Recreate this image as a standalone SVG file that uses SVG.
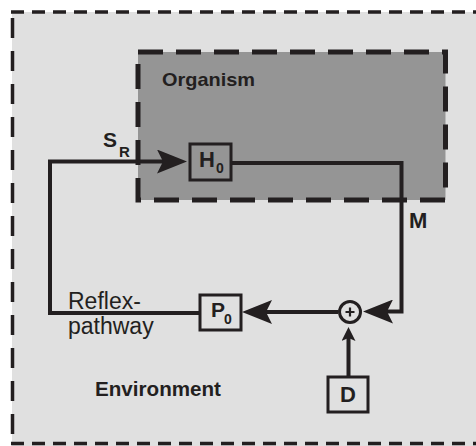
<svg xmlns="http://www.w3.org/2000/svg" width="476" height="446" viewBox="0 0 476 446">
  <style>
    .lbl { font-family: "Liberation Sans", Arial, sans-serif; fill: #231f20; }
    .b { font-weight: bold; }
    .box { fill: none; stroke: #231f20; stroke-width: 3; }
    .wire { fill: none; stroke: #231f20; stroke-width: 4; stroke-linejoin: miter; }
    .edge { stroke: #231f20; stroke-width: 3.5; }
  </style>
  <defs>
    <marker id="arr" markerUnits="userSpaceOnUse" markerWidth="30" markerHeight="24" viewBox="0 0 30 24" refX="6" refY="12" orient="auto">
      <path d="M0,0 L30,12 L0,24 L6,12 Z" fill="#231f20"/>
    </marker>
    <marker id="arrS" markerUnits="userSpaceOnUse" markerWidth="14" markerHeight="14" viewBox="0 0 14 14" refX="3" refY="7" orient="auto">
      <path d="M0,0 L14,7 L0,14 L3,7 Z" fill="#231f20"/>
    </marker>
  </defs>
  <rect width="476" height="446" fill="#ffffff"/>

  <g id="environment">
    <rect x="12" y="12" width="470" height="440" fill="#e0e0e0"/>
    <line class="edge" x1="11" y1="12" x2="476" y2="12" stroke-dasharray="13 8"/>
    <line class="edge" x1="12.5" y1="12" x2="12.5" y2="446" stroke-dasharray="20 13" stroke-dashoffset="-6"/>
    <line class="edge" x1="11" y1="443.5" x2="476" y2="443.5" stroke-dasharray="13 8"/>
    <text class="lbl b" x="95" y="396" font-size="20" textLength="126" lengthAdjust="spacingAndGlyphs">Environment</text>
  </g>

  <g id="organism">
    <rect x="138" y="52" width="307.5" height="148" fill="#959595" stroke="#231f20" stroke-width="5" stroke-dasharray="25 13"/>
    <text class="lbl b" x="162" y="85.5" font-size="19" textLength="93" lengthAdjust="spacingAndGlyphs">Organism</text>
  </g>

  <g id="connectors">
    <path id="c-p0-h0" class="wire" d="M200,313 H50 V161.5 H163" marker-end="url(#arr)"/>
    <path id="c-h0-sum" class="wire" d="M231,163 H401.5 V311.5 H387" marker-end="url(#arr)"/>
    <path id="c-sum-p0" class="wire" d="M338,312 H266" marker-end="url(#arr)"/>
    <path id="c-d-sum" class="wire" d="M348.5,377 V338" marker-end="url(#arrS)"/>
  </g>

  <g id="labels">
    <text class="lbl b" x="103" y="147" font-size="21">S</text>
    <text class="lbl b" x="119" y="157" font-size="15">R</text>
    <text class="lbl b" x="409" y="228" font-size="22">M</text>
    <text class="lbl" x="68" y="309" font-size="23">Reflex-</text>
    <text class="lbl" x="68" y="334" font-size="23">pathway</text>
  </g>

  <g id="H0">
    <rect class="box" x="190" y="144" width="41" height="36" fill="none"/>
    <text class="lbl b" x="199" y="167" font-size="22">H</text>
    <text class="lbl b" x="216" y="173" font-size="14">0</text>
  </g>

  <g id="P0">
    <rect class="box" x="200" y="295" width="41" height="35"/>
    <text class="lbl b" x="211" y="317" font-size="21">P</text>
    <text class="lbl b" x="224" y="324" font-size="14">0</text>
  </g>

  <g id="sum">
    <circle cx="350" cy="312" r="10.5" fill="#e0e0e0" stroke="#231f20" stroke-width="3"/>
    <path d="M345.5,312 H354.5 M350,307.5 V316.5" stroke="#231f20" stroke-width="2.2"/>
  </g>

  <g id="D">
    <rect class="box" x="328" y="377" width="40" height="35"/>
    <text class="lbl b" x="348" y="401.5" font-size="22" text-anchor="middle">D</text>
  </g>
</svg>
